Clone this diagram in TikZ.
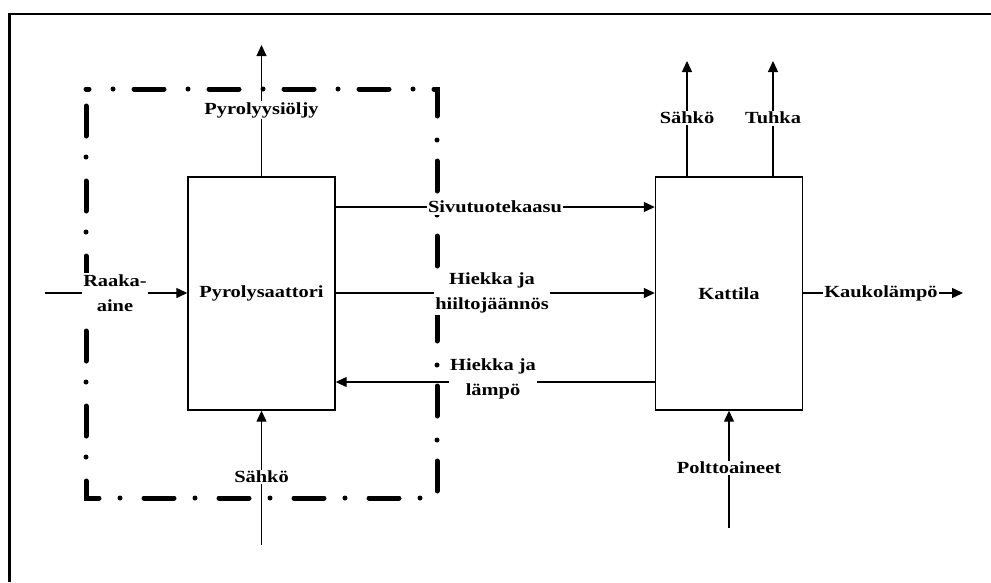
\documentclass[tikz,border=0pt]{standalone}
\usepackage{fontspec}
\newfontfamily\lblfont{Liberation Serif}[FakeStretch=1.2]
\usetikzlibrary{arrows.meta}
\tikzset{
  box/.style={draw, line width=1.4pt, minimum width=147pt, minimum height=233pt, inner sep=0pt, font=\lblfont\bfseries\fontsize{17}{25}\selectfont},
  lbl/.style={fill=white, inner sep=1.5pt, align=center, font=\lblfont\bfseries\fontsize{17}{25}\selectfont},
  conn/.style={line width=1.3pt},
  arr/.style={conn, -{Triangle[length=11pt,width=10pt]}},
  frame/.style={line width=2.8pt},
  boundary/.style={line width=5pt, line cap=round, dash pattern=on 30pt off 24pt on 0pt off 21pt, dash phase=27pt}
}
\begin{document}
\begin{tikzpicture}[x=1pt,y=-1pt]
\useasboundingbox (0,0) rectangle (991,582);
% outer frame (top and left edges)
\draw[frame] (9.5,582) -- (9.5,14) -- (991,14);
% system boundary
\draw[boundary] (86,89) -- (437,89) -- (437,498) -- (86,498) -- cycle;
% boxes
\node[box] (pyr) at (261.5,293.5) {Pyrolysaattori};
\node[box] (kat) at (729,293.5) {Kattila};
% free ends
\coordinate (raw) at (45,293);
\coordinate (oil) at (261.5,45);
\coordinate (elin) at (261.5,545);
\coordinate (elout) at (687,61);
\coordinate (ash) at (773,61);
\coordinate (dh) at (963,293);
\coordinate (fuel) at (729,528);
\coordinate (y1) at (0,207);
\coordinate (y2) at (0,293);
\coordinate (y3) at (0,382);
% connectors
\draw[arr] (raw) -- (pyr.west |- y2);
\draw[arr] (pyr.north) -- (oil);
\draw[arr] (elin) -- (pyr.south);
\draw[arr] (pyr.east |- y1) -- (kat.west |- y1);
\draw[arr] (pyr.east |- y2) -- (kat.west |- y2);
\draw[arr] (kat.west |- y3) -- (pyr.east |- y3);
\draw[arr] (kat.north -| elout) -- (elout);
\draw[arr] (kat.north -| ash) -- (ash);
\draw[arr] (kat.east |- y2) -- (dh);
\draw[arr] (fuel) -- (kat.south);
% labels
\node[lbl] (lraw) at (115,293) {Raaka-\\aine};
\node[lbl] (loil) at (261.5,110) {Pyrolyysiöljy};
\node[lbl] (lelin) at (261.5,477) {Sähkö};
\node[lbl] (lgas) at (495,207) {Sivutuotekaasu};
\node[lbl] (lchar) at (492,293) {Hiekka ja\\hiiltojäännös};
\node[lbl] (lsand) at (493,379) {Hiekka ja\\lämpö};
\node[lbl] (lelout) at (687,118) {Sähkö};
\node[lbl] (lash) at (773,118) {Tuhka};
\node[lbl] (ldh) at (881,293) {Kaukolämpö};
\node[lbl] (lfuel) at (729,468) {Polttoaineet};
\end{tikzpicture}
\end{document}
